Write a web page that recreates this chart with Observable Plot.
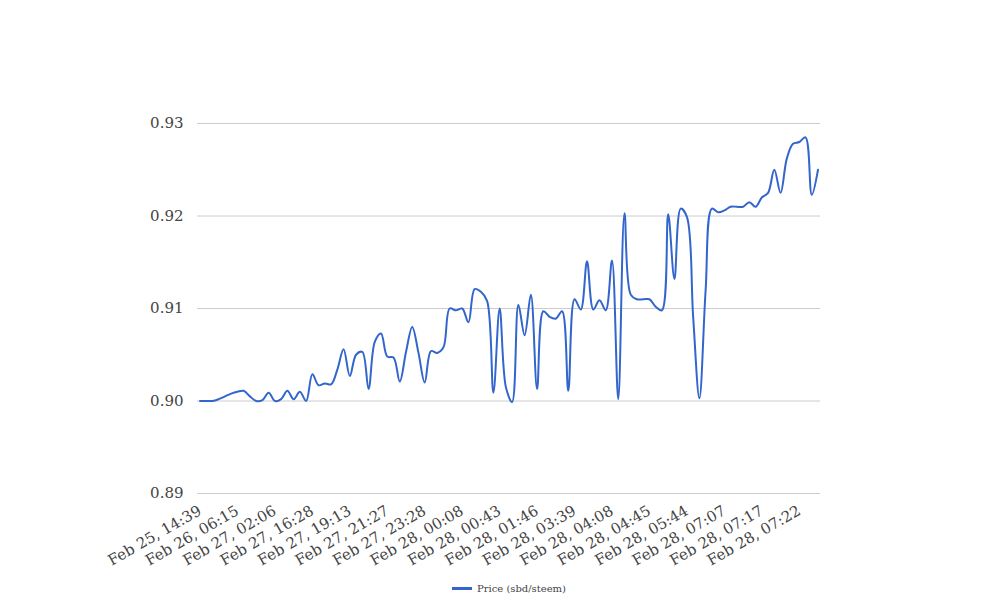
<!DOCTYPE html>
<html><head><meta charset="utf-8">
<script src="https://cdn.jsdelivr.net/npm/d3@7"></script>
<script src="https://cdn.jsdelivr.net/npm/@observablehq/plot@0.6"></script>
<style>
body{margin:0;background:#fff;font-family:"DejaVu Serif",serif;}
#wrap{position:relative;width:1008px;height:616px;}
#legend{position:absolute;left:452px;top:583px;display:flex;align-items:center;font-size:10px;color:#444;font-family:"DejaVu Serif",serif;}
#legend .sw{width:20px;height:3px;background:#3366cc;margin-right:5px;}
</style></head><body>
<div id="wrap"><div id="chart"></div>
<div id="legend"><span class="sw"></span><span>Price (sbd/steem)</span></div></div>
<script>
const prices = [
0.9000,0.9000,0.9000,0.9002,0.9005,0.9008,0.9010,0.9011,0.9005,0.9000,
0.9001,0.9009,0.9000,0.9002,0.9011,0.9002,0.9010,0.9000,0.9029,0.9017,
0.9019,0.9018,0.9034,0.9056,0.9027,0.9050,0.9053,0.9013,0.9064,0.9073,
0.9048,0.9047,0.9021,0.9053,0.9080,0.9052,0.9020,0.9054,0.9052,0.9058,
0.9100,0.9098,0.9100,0.9085,0.9121,0.9118,0.9108,0.9009,0.9100,0.9015,
0.8999,0.9104,0.9071,0.9115,0.9013,0.9097,0.9091,0.9089,0.9097,0.9011,
0.9110,0.9099,0.9151,0.9099,0.9109,0.9098,0.9152,0.9002,0.9203,0.9115,
0.9110,0.9110,0.9110,0.9102,0.9098,0.9202,0.9132,0.9208,0.9199,0.9091,
0.9003,0.9120,0.9208,0.9204,0.9206,0.9210,0.9210,0.9210,0.9215,0.9210,
0.9220,0.9225,0.9250,0.9225,0.9262,0.9278,0.9280,0.9285,0.9223,0.9250
];
const tickLabels = ["Feb 25, 14:39","Feb 26, 06:15","Feb 27, 02:06","Feb 27, 16:28","Feb 27, 19:13","Feb 27, 21:27","Feb 27, 23:28","Feb 28, 00:08","Feb 28, 00:43","Feb 28, 01:46","Feb 28, 03:39","Feb 28, 04:08","Feb 28, 04:45","Feb 28, 05:44","Feb 28, 07:07","Feb 28, 07:17","Feb 28, 07:22"];
const tickStep = 6;
const yTicks = [0.89,0.90,0.91,0.92,0.93];
const data = prices.map((p,i)=>({i,p}));
const chart = Plot.plot({
  width:1008, height:578,
  marginLeft:197, marginRight:188, marginTop:123, marginBottom:85,
  style:{fontFamily:'"DejaVu Serif", serif', fontSize:"15px", color:"#444", background:"#fff"},
  x:{domain:[0,prices.length-1], insetLeft:2.5, insetRight:2.5},
  y:{domain:[0.89,0.93]},
  marks:[
    Plot.ruleY(yTicks,{stroke:"#ccc"}),
    Plot.axisY({ticks:yTicks, tickSize:0, tickPadding:14, fontSize:15, tickFormat:d=>d.toFixed(2), label:null}),
    Plot.axisX({ticks:tickLabels.map((_,k)=>k*tickStep), tickFormat:d=>tickLabels[Math.round(d/tickStep)], tickRotate:-30, tickSize:0, tickPadding:16, fontSize:15, label:null}),
    Plot.line(data,{x:"i",y:"p",stroke:"#3366cc",strokeWidth:2,curve:"catmull-rom"})
  ]
});
document.getElementById("chart").appendChild(chart);
</script>
</body></html>
